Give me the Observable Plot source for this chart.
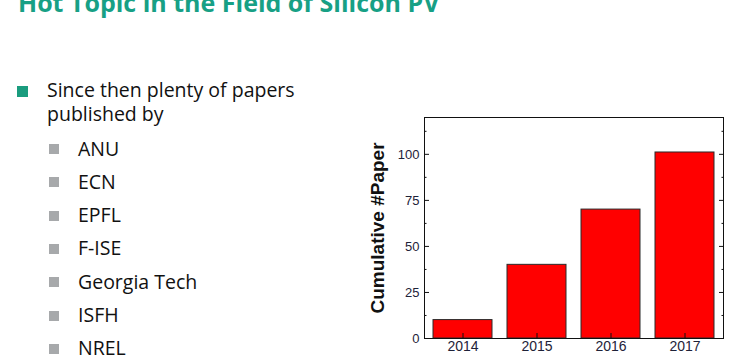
<!DOCTYPE html>
<html>
<head>
<meta charset="utf-8">
<script src="https://cdn.jsdelivr.net/npm/d3@7"></script>
<script src="https://cdn.jsdelivr.net/npm/@observablehq/plot@0.6"></script>
<style>
  html, body { margin: 0; padding: 0; background: #fff; }
  #page { position: relative; width: 738px; height: 355px; overflow: hidden; background: #fff; font-family: "Open Sans", "Noto Sans", sans-serif; color: #111; }
  #title { position: absolute; left: 18px; top: -10px; font-size: 25px; line-height: 25px; font-weight: 700; color: #17a085; white-space: nowrap; margin: 0; }
  .sq { position: absolute; }
  #main { position: absolute; left: 47px; top: 78px; font-size: 19.5px; line-height: 23.5px; margin: 0; }
  .item { position: absolute; left: 78px; font-size: 19.5px; line-height: 33.3px; white-space: nowrap; }
  #chart { position: absolute; left: 350px; top: 100px; }
</style>
</head>
<body>
<div id="page">
  <div id="title"></div>
  <div id="chart"></div>
</div>
<script>
// ---- data ----
const titleText = "Hot Topic in the Field of Silicon PV";
const mainBullet = ["Since then plenty of papers", "published by"];
const subItems = ["ANU", "ECN", "EPFL", "F-ISE", "Georgia Tech", "ISFH", "NREL"];
const years = ["2014", "2015", "2016", "2017"];
const counts = [10, 40, 70, 101];
const yMajorTicks = [0, 25, 50, 75, 100];
const yMinorTicks = [12.5, 37.5, 62.5, 87.5, 112.5];
const yLabel = "Cumulative #Paper";

// ---- slide text ----
const page = document.getElementById("page");
document.getElementById("title").textContent = titleText;

const teal = document.createElement("div");
teal.className = "sq";
Object.assign(teal.style, {left: "17px", top: "86px", width: "11px", height: "11px", background: "#1a9c7e"});
page.appendChild(teal);

const main = document.createElement("div");
main.id = "main";
main.innerHTML = mainBullet.join("<br>");
page.appendChild(main);

subItems.forEach((s, i) => {
  const sq = document.createElement("div");
  sq.className = "sq";
  Object.assign(sq.style, {left: "49px", top: (144 + i * 33.3) + "px", width: "10px", height: "10px", background: "#a7a9ab"});
  page.appendChild(sq);
  const t = document.createElement("div");
  t.className = "item";
  t.style.top = (131.5 + i * 33.3) + "px";
  t.textContent = s;
  page.appendChild(t);
});

// ---- chart ----
const data = years.map((y, i) => ({year: y, count: counts[i]}));

const chart = Plot.plot({
  width: 388,
  height: 260,
  marginLeft: 74,
  marginRight: 15,
  marginTop: 17,
  marginBottom: 22,
  style: {fontFamily: "'Liberation Sans', Arial, sans-serif", background: "transparent", color: "#111"},
  x: {domain: years, paddingInner: 0.2, paddingOuter: 0.1, label: null},
  y: {domain: [0, 120], label: null},
  marks: [
    Plot.barY(data, {x: "year", y: "count", fill: "#ff0000", stroke: "#2a2a2a", strokeWidth: 1}),
    Plot.frame({stroke: "#111"}),
    Plot.axisY({ticks: yMajorTicks, tickSize: 0, tickPadding: 5, fontSize: 13, fill: "#1e2238", label: null}),
    Plot.axisY({ticks: yMajorTicks, tickSize: -5, fill: "none", stroke: "#111", label: null}),
    Plot.axisY({ticks: yMinorTicks, tickSize: -2.5, fill: "none", stroke: "#111", label: null}),
    Plot.axisY({anchor: "right", ticks: yMajorTicks, tickSize: -5, fill: "none", stroke: "#111", label: null}),
    Plot.axisY({anchor: "right", ticks: yMinorTicks, tickSize: -2.5, fill: "none", stroke: "#111", label: null}),
    Plot.axisX({tickSize: 0, tickPadding: 3, fontSize: 14, fill: "#1e2238", label: null}),
    Plot.axisX({tickSize: -5, fill: "none", stroke: "#111", label: null}),
    Plot.text([yLabel], {text: d => d, frameAnchor: "left", textAnchor: "middle", rotate: -90, dx: -47, fontSize: 19, fontWeight: "bold", fill: "#111"})
  ]
});
document.getElementById("chart").appendChild(chart);
</script>
</body>
</html>
